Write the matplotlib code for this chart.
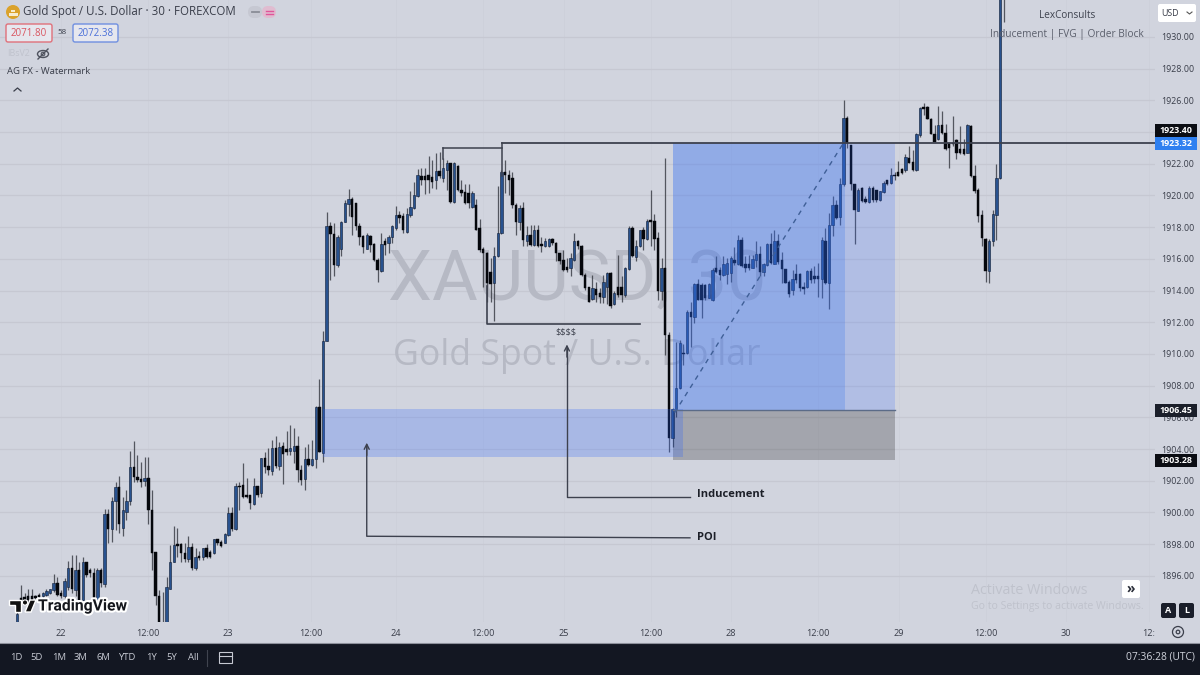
import matplotlib
matplotlib.use("Agg")
import matplotlib.pyplot as plt
import matplotlib.patheffects as pe
from matplotlib.patches import Rectangle, FancyBboxPatch, Circle, Ellipse, Polygon

opens = [
1893.1,1894.6,1894.65,1894.7,1894.7,1894.7,1894.8,1894.7,1894.8,1894.95,
1895.1,1895.55,1894.9,1894.75,1895.3,1896.5,1895.1,1896.35,1894.5,1896.9,
1896.4,1896.15,1894.5,1896.35,1895.5,1899.9,1898.95,1900.7,1901.6,1899,
1900.05,1900.75,1902.85,1902.25,1902.1,1902,1902.2,1900.15,1897.5,1894.75,
1892.9,1892.5,1895.2,1896.9,1898,1898,1897.45,1897.05,1897.8,1896.5,
1897.25,1897.2,1897.75,1897.5,1897.45,1898.3,1898.15,1898.1,1898.6,1899.95,
1898.95,1901.7,1901.75,1901.1,1901.1,1900.55,1901.65,1901.2,1903.45,1902.95,
1902.6,1904.05,1902.95,1904.2,1904,1903.85,1903.85,1904.2,1902.7,1902.1,
1903.35,1903,1903.35,1906.65,1903.75,1910.8,1918.05,1917.55,1915.6,1916.65,
1918.35,1919.45,1919.8,1919.5,1918.05,1917.45,1916.65,1917.45,1916.95,1915.95,
1915.25,1917.1,1917,1917.35,1917.95,1918.75,1918.7,1917.7,1918.75,1919.2,
1919.95,1921.25,1921.25,1921.3,1921.15,1920.95,1921.55,1921.1,1921.6,1922.05,
1919.6,1921.85,1920.35,1920.2,1920.15,1919.3,1919.4,1917.95,1916.65,1916.4,
1915.2,1914.45,1916.15,1917.6,1921.45,1921.3,1921.1,1919.4,1918.35,1919.2,
1917.1,1917.5,1916.9,1917.8,1916.95,1916.8,1916.8,1917.25,1917,1916.35,
1915.95,1915.5,1915.45,1915.95,1917.1,1916.8,1915,1914.25,1913.45,1914.1,
1913.85,1913.6,1914.25,1915.1,1913.15,1914.25,1914.25,1913.7,1915.35,1917.95,
1916.1,1916.8,1917.8,1917.25,1918.45,1918.4,1917.3,1914,1915.45,1911.2,
1904.7,1906.55,1907.85,1910.05,1910.05,1912.65,1912.35,1914.4,1914.35,1914.35,
1913.55,1913.4,1915.4,1915.3,1914.95,1915.05,1915.1,1915.95,1915.7,1917.2,
1915.65,1915.65,1915.45,1915.95,1916.3,1915.2,1915.6,1916.95,1915.7,1917.1,
1915.95,1915.35,1914.55,1914.05,1915.05,1915.05,1914.25,1914.25,1915.25,1914.9,
1914.9,1914.7,1917.15,1914.45,1918.15,1919.4,1918.65,1920.7,1924.9,1923.2,
1920.7,1919.05,1920.45,1919.8,1919.6,1920.5,1920.35,1919.7,1920.2,1920.95,
1920.8,1921.3,1921.5,1921.65,1921.6,1922.35,1922.1,1921.6,1923.8,1925.55,
1925.55,1924.85,1923.9,1923.55,1924.45,1923.95,1923.3,1923.3,1923.5,1922.9,
1922.9,1922.7,1924.4,1921.2,1920.35,1918.75,1917.25,1915.25,1917.1,1918.75,1921.1,1936]

highs = [
1893.9,1895.4,1894.9,1895.15,1895.2,1894.8,1894.9,1895,1895.15,1895.2,
1896.1,1895.95,1895.1,1895.85,1896.95,1897.3,1897.3,1896.9,1897.2,1896.9,
1896.5,1896.5,1896.5,1896.5,1900.25,1900.25,1900.95,1901.95,1902.3,1901,
1901.4,1903.85,1904.5,1903.65,1903.2,1903.5,1903.5,1901.4,1897.5,1895.1,
1895,1895.95,1897.95,1899.15,1899,1898.05,1898.05,1898.5,1898.05,1897.75,
1897.6,1897.75,1898,1897.65,1898.35,1898.35,1898.25,1898.7,1900.35,1900.35,
1901.85,1901.95,1903.1,1902.15,1901.1,1902.15,1901.7,1903.45,1903.8,1904.05,
1904.55,1904.8,1904.45,1904.45,1905.15,1905.5,1905.3,1904.85,1903,1904.15,
1904.3,1904.6,1906.7,1908.4,1911.45,1918.95,1918.35,1918.25,1917.5,1918.4,
1919.7,1920.4,1919.9,1919.55,1918.25,1917.5,1917.6,1917.5,1917,1916.05,
1917.6,1917.3,1917.5,1918.15,1919.35,1919.05,1918.9,1919.2,1920.25,1920.85,
1921.65,1921.7,1921.75,1922.5,1922.25,1922.7,1922.75,1922.35,1922.25,1922.05,
1922.1,1921.9,1921,1920.75,1920.75,1920.25,1919.75,1918.5,1916.75,1916.45,
1916.05,1916.75,1920.6,1921.6,1922.25,1921.6,1921.5,1919.5,1919.4,1919.6,
1918.05,1918.15,1918.15,1918.15,1917.4,1917.3,1917.3,1917.3,1917.05,1916.4,
1916.55,1916.05,1916.35,1917.6,1917.2,1916.85,1915.1,1914.25,1915,1914.55,
1914.15,1915,1915.15,1915.2,1913.95,1916.25,1914.9,1915.5,1918.05,1918.05,
1917.2,1917.85,1918,1918.5,1920.35,1918.85,1917.7,1916.05,1922.35,1911.4,
1906.6,1910.75,1910.85,1910.65,1912.8,1913.3,1914.45,1914.75,1914.45,1914.4,
1914.45,1915.4,1916.15,1915.5,1916.15,1916.05,1916.15,1916.75,1917.5,1917.35,
1916.2,1916.25,1916.25,1917.1,1916.8,1915.75,1917,1917.65,1917.8,1917.55,
1916.45,1915.35,1914.65,1915.3,1915.7,1915.1,1914.55,1915.3,1915.4,1915.55,
1915.75,1917.35,1917.95,1918.9,1919.95,1919.7,1921.1,1926.05,1925,1923.2,
1920.75,1920.5,1920.55,1919.95,1920.6,1920.6,1920.35,1920.3,1920.9,1921,
1921.7,1921.5,1922.15,1921.7,1922.6,1923.1,1922.85,1923.95,1925.6,1925.85,
1925.65,1924.9,1924.45,1925.65,1925.3,1924.5,1923.3,1925,1923.55,1924.35,
1923.55,1924.5,1924.45,1921.9,1920.5,1919.1,1917.3,1917.25,1919.1,1922,1935,1938]

lows = [
1893.1,1894.4,1894.35,1894.35,1894.35,1894.5,1894.6,1894.6,1894.7,1894.85,
1895,1894.7,1894.6,1894.6,1895.1,1894.9,1894.7,1894.35,1894.35,1895.95,
1895.95,1894.35,1894.35,1895.3,1895.3,1898.05,1898.15,1898.9,1898.7,1898.5,
1899.5,1900.5,1901.95,1901.95,1901.6,1901.65,1899.3,1896.35,1894.15,1892.3,
1892,1892.4,1895.2,1896.85,1897.2,1896.9,1896.9,1896.9,1896.4,1896.35,
1897,1897,1897.1,1897.15,1897.4,1897.95,1897.85,1898.05,1898.5,1898.85,
1898.9,1900.15,1900.9,1900.9,1900.2,1900.5,1901,1901,1902.5,1902.35,
1902.35,1902.8,1902.7,1901.8,1903.6,1903.6,1903.1,1901.95,1901.75,1901.4,
1902.9,1902.95,1902.8,1903.8,1903.2,1910.8,1914.65,1914.9,1915.5,1916.15,
1918.3,1918.7,1917.5,1917.8,1916.9,1916.35,1916.6,1916.45,1915.85,1914.55,
1915.2,1916.25,1916.35,1917,1917.85,1918.25,1917.65,1917.6,1918.65,1919.15,
1919.9,1920.65,1920.1,1920.15,1920.45,1920.4,1921.1,1920.85,1920.35,1919.55,
1919.55,1920.25,1919.95,1919.45,1919.2,1919.2,1917.8,1916.45,1914.25,1913.3,
1913.3,1912.05,1916.1,1917.55,1920.15,1920.05,1919.2,1917.5,1917.8,1916.8,
1916.8,1916.8,1916.8,1916.75,1916.45,1916.75,1916.75,1916.9,1915.85,1915.7,
1915.25,1915.2,1914.9,1915.85,1916.65,1914.9,1914.05,1913.25,1913.4,1913.3,
1913.2,1913.2,1913.15,1912.9,1913.1,1913.6,1913.3,1913.6,1915.3,1916.1,
1915.85,1916.75,1916.55,1917.2,1916.8,1916.55,1913.4,1913.4,1909.95,1903.8,
1904.15,1906.05,1907.8,1909.3,1910,1910.45,1911.95,1913.4,1912.25,1913.4,
1913.5,1913.35,1915.1,1914.65,1914.9,1914.4,1914.55,1915.6,1915.6,1915.5,
1915.2,1915.3,1915.4,1915.5,1914.9,1914.9,1915.55,1915.7,1915.65,1915.7,
1914.5,1914.45,1913.6,1913.7,1914.45,1914,1913.8,1914.15,1914.5,1914.5,
1913.6,1913.5,1914.4,1912.85,1917.45,1918.5,1918.15,1920.6,1923,1920.35,
1916.95,1919,1919.6,1919.55,1919.55,1919.6,1919.6,1919.65,1920.15,1920.65,
1920.75,1921,1921.2,1921.35,1921.5,1922.05,1921.55,1921.55,1923.7,1925.05,
1924.8,1923.9,1923.35,1923.5,1923.9,1922.85,1921.7,1923.1,1922.3,1922.6,
1922.55,1922.65,1921.15,1920.15,1918.35,1916.8,1914.55,1914.5,1916.8,1917.2,1921.05,1930.95]

closes = [
1893.6,1894.5,1894.5,1894.5,1894.5,1894.6,1894.65,1894.95,1895.05,1895.15,
1895.55,1894.8,1894.7,1895.65,1896.5,1895.15,1896.35,1894.4,1896.9,1896.05,
1896.15,1894.5,1896.35,1895.55,1899.9,1898.95,1900.7,1901.6,1899.3,1900.15,
1900.75,1902.85,1902.25,1902.05,1901.95,1902.2,1900.15,1897.45,1894.7,1892.5,
1892.5,1895.3,1896.9,1897.95,1897.9,1897.45,1897.05,1897.8,1896.5,1897.2,
1897.1,1897.75,1897.2,1897.2,1898.3,1898.05,1897.9,1898.65,1899.95,1898.95,
1901.65,1901.6,1901,1900.95,1900.6,1901.65,1901.1,1903.45,1902.85,1902.65,
1904.05,1902.95,1904.15,1903.7,1903.8,1904.05,1904.2,1902.7,1902.05,1903.35,
1903,1903.35,1906.65,1903.8,1910.8,1918.05,1917.55,1915.6,1917.4,1918.35,
1919.55,1919.8,1918.65,1918.05,1917.4,1916.75,1917.5,1916.9,1915.9,1915.3,
1916.95,1916.9,1917.4,1918.05,1918.75,1918.55,1917.8,1918.85,1919.3,1920.05,
1921.3,1920.95,1920.95,1920.95,1920.85,1921.55,1921.2,1921.7,1922.05,1919.6,
1922.05,1920.35,1920.15,1919.55,1919.5,1920.15,1917.85,1916.55,1916.4,1914.45,
1914.4,1916.15,1917.6,1921.45,1921.3,1921,1919.4,1918.35,1919.2,1917.2,
1917.5,1916.9,1917.8,1916.8,1916.8,1917.1,1917.25,1917,1916.35,1915.85,
1915.3,1915.3,1916.05,1917.1,1916.8,1915,1914.15,1913.3,1914.15,1913.7,
1913.6,1914.55,1915.1,1913.05,1913.85,1913.7,1913.7,1915.45,1917.95,1916.15,
1916.8,1917.8,1917.25,1918.4,1918.3,1917.25,1913.95,1915.45,1911.2,1904.7,
1906.55,1907.85,1910.7,1910,1912.65,1912.35,1914.4,1913.4,1913.4,1913.5,
1914.4,1915.3,1915.2,1914.95,1915.7,1915.75,1916.05,1915.75,1917.2,1915.55,
1915.45,1915.4,1916,1916.3,1915.2,1915.7,1916.95,1915.75,1917.15,1915.8,
1915.35,1914.5,1913.8,1914.7,1914.65,1914.15,1914.1,1915.25,1914.65,1914.7,
1914.7,1917.2,1914.45,1918.15,1919.4,1918.6,1920.7,1924.9,1923.3,1920.75,
1919.1,1920.35,1919.65,1919.6,1920.5,1919.7,1919.7,1920.25,1920.8,1920.75,
1921.3,1921.2,1921.25,1921.4,1922.45,1922.05,1921.6,1923.9,1925.5,1925.45,
1924.85,1923.9,1923.4,1924.45,1923.95,1922.9,1923,1923.25,1922.65,1922.65,
1922.6,1924.45,1921.2,1920.25,1918.7,1917.3,1915.25,1917.15,1918.85,1921.1,1935,1935]

y_ticks = list(range(1896, 1932, 2))
y_hidden_labels = [1924]  # fully covered by the 1923.40 price tag in the reference
x_tick_pos = [12, 35.9, 57.9, 80.7, 104, 127.9, 150.2, 174, 196, 220, 242.2, 266, 288, 310.8]
x_tick_labels = ["22", "12:00", "23", "12:00", "24", "12:00", "25", "12:00", "28", "12:00", "29", "12:00", "30", "12:"]
range_buttons = ["1D", "5D", "1M", "3M", "6M", "YTD", "1Y", "5Y", "All"]
range_button_x = [16, 37, 59, 81, 103, 127, 151, 172, 193]

entry_price, stop_price, target_price = 1906.45, 1903.28, 1923.32
poi_top, poi_bottom = 1906.5, 1903.5
inducement_price, poi_line_price = 1900.98, 1898.45

BG = "#d1d4de"
GRID = "#c6c8d2"
FONT = "Open Sans"
TXT = "#3a3e4a"
LINE = "#3d414e"
plt.rcParams["font.family"] = [FONT, "DejaVu Sans"]

W, H = 1200, 675
fig = plt.figure(figsize=(12, 6.75), dpi=100, facecolor=BG)
ax = fig.add_axes([0, (H - 622) / H, 1155 / W, 622 / H], facecolor=BG)
ax.set_xlim(-4.75, 312.55)
ax.set_ylim(1893.09, 1932.33)
for s in ax.spines.values():
    s.set_visible(False)
ax.yaxis.tick_right()
ax.set_yticks(y_ticks)
ax.set_yticklabels(["" if v in y_hidden_labels else f"{v:.2f}" for v in y_ticks], fontsize=6.4, color=TXT)
ax.set_xticks(x_tick_pos)
ax.set_xticklabels(x_tick_labels, fontsize=6.6, color=TXT)
ax.tick_params(axis="both", length=0)
ax.tick_params(axis="y", pad=4.6)
ax.tick_params(axis="x", pad=5)
ax.grid(axis="y", color=GRID, lw=0.9)
ax.grid(axis="x", color="#cdd0da", lw=0.7)
ax.set_axisbelow(True)

# Watermark
ax.text(101.9, 1914.6, "XAUUSD, 30", fontsize=50.5, color="#b6b9c4", ha="left", va="center", zorder=1,
        fontfamily="Roboto")
ax.text(103.2, 1909.85, "Gold Spot / U.S. Dollar", fontsize=25.7, color="#b6b9c4", ha="left", va="center", zorder=1)

# Candles
xs = list(range(len(opens)))
up_x = [i for i in xs if closes[i] >= opens[i]]
dn_x = [i for i in xs if closes[i] < opens[i]]
ax.vlines(xs, lows, highs, color="#34373f", lw=0.9, alpha=0.8, zorder=3)
ax.bar(up_x, [closes[i] - opens[i] for i in up_x], bottom=[opens[i] for i in up_x], width=0.66,
       color="#28528f", edgecolor="#101d36", linewidth=0.4, zorder=4)
ax.bar(dn_x, [opens[i] - closes[i] for i in dn_x], bottom=[closes[i] for i in dn_x], width=0.66,
       color="#05070c", edgecolor="#05070c", linewidth=0.3, zorder=4)

# Position tool + POI
ZB = "#2962ff"
ax.add_patch(Rectangle((180.1, entry_price), 241.1 - 180.1, target_price - entry_price, fc=ZB, alpha=0.19, lw=0, zorder=5))
ax.add_patch(Rectangle((180.1, entry_price), 227.4 - 180.1, target_price - entry_price, fc="#2f6fee", alpha=0.24, lw=0, zorder=5))
ax.add_patch(Rectangle((180.1, stop_price), 241.1 - 180.1, entry_price - stop_price, fc="black", alpha=0.22, lw=0, zorder=5))
ax.add_patch(Rectangle((84, poi_bottom), 183 - 84, poi_top - poi_bottom, fc=ZB, alpha=0.24, lw=0, zorder=5))
ax.plot([180.1, 241.1], [entry_price, entry_price], color="#5b6b88", lw=1.0, zorder=6)
ax.plot([180.6, 227], [1906.3, target_price], color="#3f5f97", lw=1, ls=(0, (3.5, 3.5)), zorder=6)

# Drawn structure lines
ax.plot([133.1, 312.55], [target_price, target_price], color=LINE, lw=1.3, zorder=6)
ax.plot([133.1, 133.1], [target_price, 1921.2], color=LINE, lw=1.1, zorder=6)
ax.plot([116.9, 133.1], [1923, 1923], color=LINE, lw=1.1, zorder=6)
ax.plot([116.9, 116.9], [1923, 1922.3], color=LINE, lw=1.1, zorder=6)
ax.plot([129, 129, 171], [1914.3, 1911.9, 1911.9], color=LINE, lw=1.2, zorder=6)
ax.text(150.7, 1911.4, "$$$$", fontsize=6.6, color=TXT, ha="center", va="center", zorder=7, parse_math=False)

ax.plot([151, 151, 184.8], [1910.4, inducement_price, inducement_price], color=LINE, lw=1.0, zorder=6)
ax.annotate("", xy=(151, 1910.6), xytext=(151, 1909.8), zorder=6,
            arrowprops=dict(arrowstyle="->", color=LINE, lw=1.0, shrinkA=0, shrinkB=0, mutation_scale=9))
ax.plot([96, 96, 184.8], [1904.2, poi_line_price + 0.05, poi_line_price - 0.05], color=LINE, lw=1.0, zorder=6)
ax.annotate("", xy=(96, 1904.4), xytext=(96, 1903.6), zorder=6,
            arrowprops=dict(arrowstyle="->", color=LINE, lw=1.0, shrinkA=0, shrinkB=0, mutation_scale=9))
ax.text(186.8, inducement_price + 0.15, "Inducement", fontsize=8, fontweight="bold", color="#1c1f28", va="center", zorder=7)
ax.text(186.8, poi_line_price - 0.05, "POI", fontsize=8, fontweight="bold", color="#1c1f28", va="center", zorder=7)

# Pixel-space chrome
ov = fig.add_axes([0, 0, 1, 1], zorder=10)
ov.set_xlim(0, W)
ov.set_ylim(H, 0)
ov.axis("off")
ov.patch.set_alpha(0)


def tx(x, y, s, size=7, color=TXT, ha="left", **kw):
    return ov.text(x, y, s, fontsize=size, color=color, ha=ha, va="center", parse_math=False, **kw)


def box(x0, y0, x1, y1, fc, ec="none", r=1.5, lw=1):
    p = FancyBboxPatch((x0, y0), x1 - x0, y1 - y0, boxstyle=f"round,pad=0,rounding_size={r}", fc=fc, ec=ec, lw=lw)
    ov.add_patch(p)


# header
ov.add_patch(Circle((13, 12), 7, fc="#dba22b", ec="none"))
ov.add_patch(Rectangle((8.5, 13), 9, 2.5, fc="#f7ecd0", lw=0))
ov.add_patch(Rectangle((11, 9.5), 4, 2.5, fc="#f7ecd0", lw=0))
tx(23, 12, "Gold Spot / U.S. Dollar · 30 · FOREXCOM", 8.3, "#3a3e4a")
box(248, 6, 262, 18, "#c6c8d2", r=6)
ov.plot([251.5, 258.5], [12, 12], color="#8a8d97", lw=1.3)
box(262, 6, 276, 18, "#e0bcd0", r=6)
ov.plot([265.5, 272.5], [10.5, 10.5], color="#e0559a", lw=1)
ov.plot([265.5, 272.5], [13.5, 13.5], color="#e0559a", lw=1)
box(6, 24, 52, 42, "#e6e7ee", ec="#e0707a", r=2, lw=1)
tx(29, 33, "2071.80", 7, "#d9545f", ha="center")
tx(62, 33, "58", 5.8, TXT, ha="center")
box(73, 24, 118, 42, "#e6e7ee", ec="#6f8fe0", r=2, lw=1)
tx(95.5, 33, "2072.38", 7, "#4a6fd8", ha="center")
tx(7, 54, "IBsV2", 6.4, "#c0c3cd")
ov.add_patch(Ellipse((43, 54), 11, 7, fc="none", ec="#4e525e", lw=1))
ov.add_patch(Circle((43, 54), 1.8, fc="none", ec="#4e525e", lw=0.8))
ov.plot([38, 48], [59, 49], color="#4e525e", lw=1)
tx(7, 72, "AG FX - Watermark", 6.8, "#3a3e4a")
ov.plot([14, 17.5, 21], [91, 88, 91], color="#3a3e4a", lw=0.9)
tx(1067, 16, "LexConsults", 7.2, "#3f434f", ha="center")
tx(1067, 34, "Inducement | FVG | Order Block", 7.3, "#5a5e6b", ha="center")

# USD
box(1158, 4, 1196, 22, "white", r=2)
tx(1161, 13, "USD", 6.4, "#3a3e4a")
ov.plot([1187, 1189.5, 1192], [12, 14, 12], color="#555", lw=0.8)

# price labels
for y0, y1, fc, s in [(124, 137, "#0b0d13", "1923.40"), (137, 150, "#2f80f0", "1923.32"),
                      (404, 417, "#1b1f2a", "1906.45"), (454, 467, "#0b0d13", "1903.28")]:
    ov.add_patch(Rectangle((1155, y0), 42, y1 - y0, fc=fc, lw=0))
    tx(1176, (y0 + y1) / 2, s, 6.4, "white", ha="center", fontweight="bold")

# bottom right widgets
box(1122, 580, 1140, 598, "white", r=2)
tx(1131, 589, "»", 10, "#2a2e39", ha="center", fontweight="bold")
box(1161, 603, 1176, 618, "#1a1e2a", r=2)
tx(1168.5, 610.5, "A", 6.5, "white", ha="center", fontweight="bold")
box(1179, 603, 1194, 618, "#1a1e2a", r=2)
tx(1186.5, 610.5, "L", 6.5, "white", ha="center", fontweight="bold")
ov.add_patch(Circle((1178, 632), 5.5, fc="none", ec="#3a3e4a", lw=0.9))
ov.add_patch(Circle((1178, 632), 1.8, fc="none", ec="#3a3e4a", lw=0.9))

tx(971, 590, "Activate Windows", 10.3, "#bfc2cc")
tx(971, 607, "Go to Settings to activate Windows.", 7.6, "#bfc2cc")

# TradingView logo
outline = [pe.withStroke(linewidth=3, foreground="white")]
for art in [Polygon([(9, 600), (21, 600), (21, 612), (15, 612), (15, 605), (9, 605)], closed=True, fc="#111", ec="white", lw=1),
            Polygon([(25, 612), (30, 600), (36, 600), (31, 612)], closed=True, fc="#111", ec="white", lw=1),
            Circle((25, 602.5), 2.6, fc="#111", ec="white", lw=0.8)]:
    ov.add_patch(art)
t = tx(38, 606, "TradingView", 11.3, "#15171d", fontweight="bold", fontfamily="Roboto")
t.set_path_effects(outline)

# bottom bar
ov.add_patch(Rectangle((0, 643), W, 32, fc="#131722", lw=0))
ov.plot([0, W], [642.5, 642.5], color="#8d909b", lw=0.8)
for x, s in zip(range_button_x, range_buttons):
    tx(x, 657, s, 6.8, "#c6c9d2", ha="center")
ov.plot([207, 207], [650, 666], color="#40444f", lw=0.8)
ov.add_patch(Rectangle((219, 652), 13, 11, fc="none", ec="#c6c9d2", lw=0.8))
ov.plot([219, 232], [655.5, 655.5], color="#c6c9d2", lw=0.8)
tx(1195, 657, "07:36:28 (UTC)", 7.4, "#d0d3dc", ha="right")

fig.savefig("out.png", dpi=100, facecolor=BG)
